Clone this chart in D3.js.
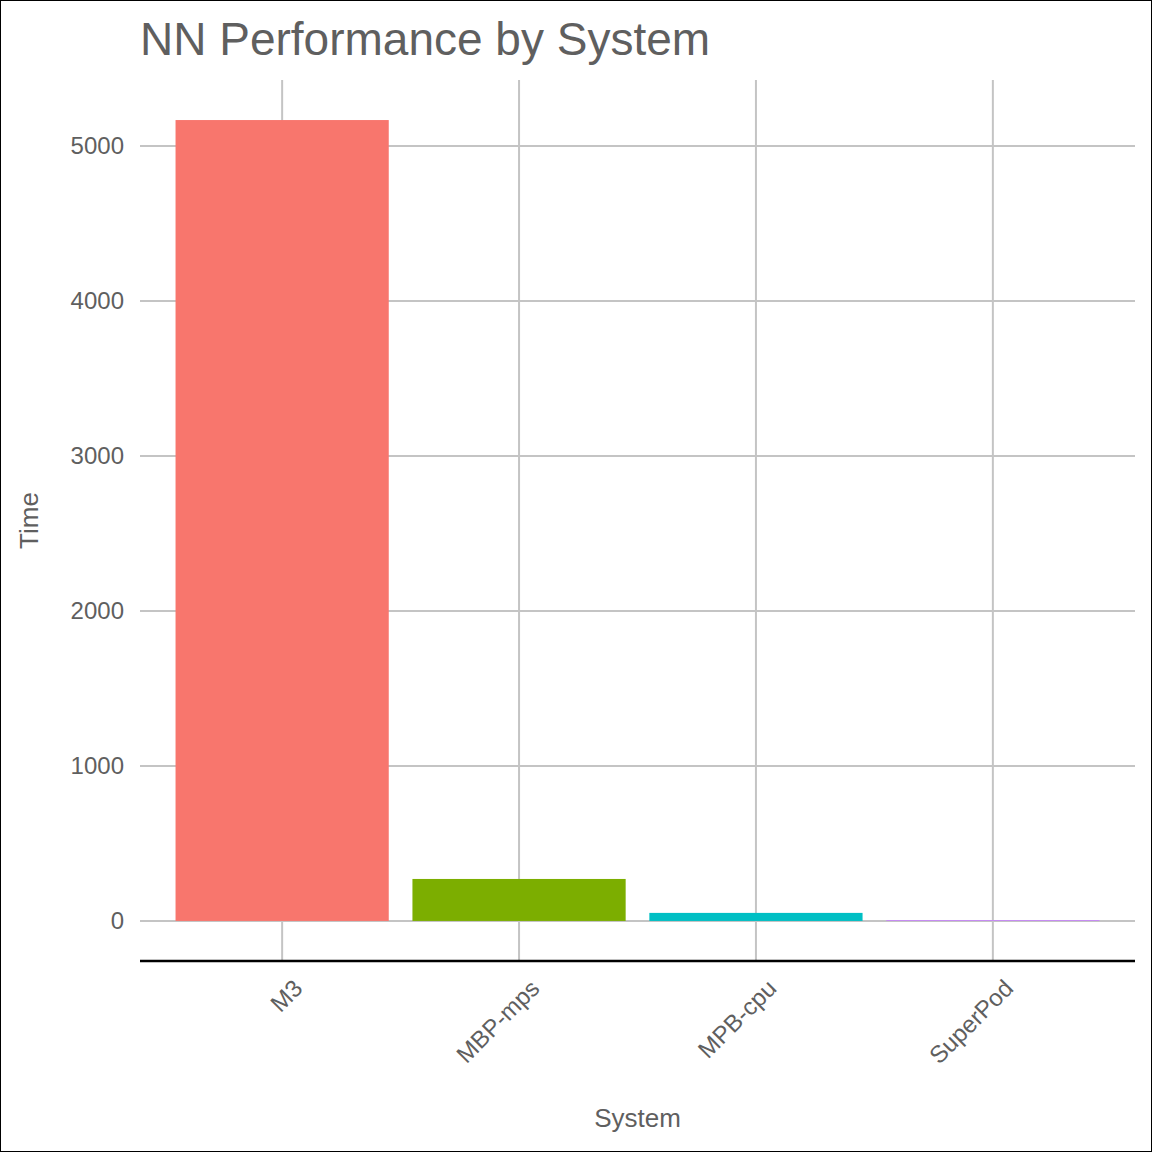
<!DOCTYPE html>
<html>
<head>
<script src="https://d3js.org/d3.v7.min.js"></script>
<style>
body { margin: 0; background: #fff; }
svg { display: block; font-family: "Liberation Sans", Arial, sans-serif; }
</style>
</head>
<body>
<svg id="chart" width="1152" height="1152"></svg>
<script>
const systems = ["M3", "MBP-mps", "MPB-cpu", "SuperPod"];
const times = [5168, 271, 52, 5];
const colors = ["#F8766D", "#7CAE00", "#00BFC4", "#C77CFF"];
const yTicks = [0, 1000, 2000, 3000, 4000, 5000];

const svg = d3.select("#chart");
const pLeft = 140, pRight = 1135, pTop = 80, pBottom = 961;

svg.append("rect").attr("x", 0.5).attr("y", 0.5).attr("width", 1151).attr("height", 1151)
  .attr("fill", "#fff").attr("stroke", "#000");

// ggplot-like discrete axis: 0.6 unit expansion each side
const x = d3.scalePoint().domain(systems).range([pLeft, pRight]).padding(0.6);
const unit = x.step();
const maxV = d3.max(times);
const y = d3.scaleLinear().domain([-0.05 * maxV, 1.05 * maxV]).range([pBottom, pTop]);

const g = svg.append("g");
g.selectAll(".vg").data(systems).join("line")
  .attr("x1", d => x(d)).attr("x2", d => x(d)).attr("y1", pTop).attr("y2", pBottom)
  .attr("stroke", "#c4c4c4").attr("stroke-width", 2);
g.selectAll(".hg").data(yTicks).join("line")
  .attr("x1", pLeft).attr("x2", pRight).attr("y1", d => y(d)).attr("y2", d => y(d))
  .attr("stroke", "#c4c4c4").attr("stroke-width", 2);

g.selectAll(".bar").data(systems).join("rect")
  .attr("x", d => x(d) - unit * 0.45).attr("width", unit * 0.9)
  .attr("y", (d, i) => y(times[i])).attr("height", (d, i) => y(0) - y(times[i]))
  .attr("fill", (d, i) => colors[i]);

svg.append("line").attr("x1", pLeft).attr("x2", pRight).attr("y1", pBottom).attr("y2", pBottom)
  .attr("stroke", "#000").attr("stroke-width", 2.5);

svg.selectAll(".yl").data(yTicks).join("text")
  .attr("x", 124).attr("y", d => y(d)).attr("dy", "0.35em").attr("text-anchor", "end")
  .attr("font-size", 24).attr("fill", "#5f5f5f").text(d => d);

svg.selectAll(".xl").data(systems).join("text")
  .attr("transform", d => `translate(${x(d) + 10},${978}) rotate(-45)`)
  .attr("text-anchor", "end").attr("dy", "0.7em")
  .attr("font-size", 24).attr("fill", "#5f5f5f").text(d => d);

svg.append("text").attr("x", (pLeft + pRight) / 2).attr("y", 1127).attr("text-anchor", "middle")
  .attr("font-size", 26).attr("fill", "#5f5f5f").text("System");
svg.append("text").attr("transform", `translate(38,${(pTop + pBottom) / 2}) rotate(-90)`)
  .attr("text-anchor", "middle").attr("font-size", 26).attr("fill", "#5f5f5f").text("Time");
svg.append("text").attr("x", pLeft).attr("y", 55).attr("font-size", 46).attr("fill", "#5f5f5f")
  .text("NN Performance by System");
</script>
</body>
</html>
